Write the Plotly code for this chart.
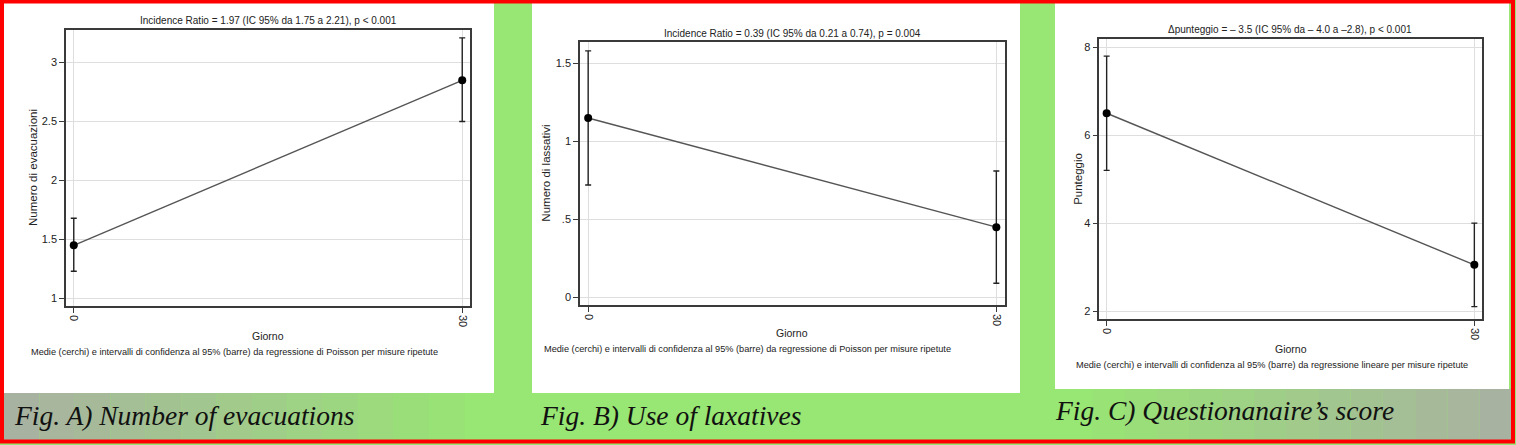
import plotly.graph_objects as go

W, H = 1516, 445

# ---------------- data ----------------
days = [0, 30]
day_labels = ["0", "30"]

evac_mean = [1.45, 2.85]
evac_lo = [1.23, 2.50]
evac_hi = [1.68, 3.21]
evac_ticks = [1, 1.5, 2, 2.5, 3]
evac_ticktext = ["1", "1.5", "2", "2.5", "3"]

lax_mean = [1.15, 0.45]
lax_lo = [0.72, 0.09]
lax_hi = [1.58, 0.81]
lax_ticks = [0, 0.5, 1, 1.5]
lax_ticktext = ["0", ".5", "1", "1.5"]

score_mean = [6.5, 3.05]
score_lo = [5.2, 2.1]
score_hi = [7.8, 4.0]
score_ticks = [2, 4, 6, 8]
score_ticktext = ["2", "4", "6", "8"]

titles = [
    "Incidence Ratio = 1.97 (IC 95% da 1.75 a 2.21), p < 0.001",
    "Incidence Ratio = 0.39 (IC 95% da 0.21 a 0.74), p = 0.004",
    "\u0394punteggio = \u2013 3.5 (IC 95% da \u2013 4.0 a \u20132.8), p < 0.001",
]
ytitles = ["Numero di evacuazioni", "Numero di lassativi", "Punteggio"]
notes = [
    "Medie (cerchi) e intervalli di confidenza al 95% (barre) da regressione di Poisson per misure ripetute",
    "Medie (cerchi) e intervalli di confidenza al 95% (barre) da regressione di Poisson per misure ripetute",
    "Medie (cerchi) e intervalli di confidenza al 95% (barre) da regressione lineare per misure ripetute",
]
captions = ["Fig. A) Number of evacuations", "Fig. B) Use of laxatives", "Fig. C) Questionanaire\u2019s score"]

# ---------------- helpers ----------------
def px(x):
    return x / W

def py(y):
    return 1 - y / H

SANS = "Liberation Sans, Arial, sans-serif"
SERIF = "Liberation Serif, Times New Roman, serif"

fig = go.Figure()
shapes = []
annotations = []

GREEN = "#98e673"
GRAY = "#a8b2a0"

# page background
shapes.append(dict(type="rect", xref="paper", yref="paper", x0=0, x1=1, y0=0, y1=1,
                   fillcolor=GREEN, line=dict(width=0), layer="below"))

def hexmix(c1, c2, t):
    a = [int(c1[i:i + 2], 16) for i in (1, 3, 5)]
    b = [int(c2[i:i + 2], 16) for i in (1, 3, 5)]
    return "#%02x%02x%02x" % tuple(int(round(a[k] + (b[k] - a[k]) * t)) for k in range(3))

# gradient strips under panels A and C
n = 14
for i in range(n):
    x0 = 4 + i * (496 / n)
    x1 = 4 + (i + 1) * (496 / n)
    shapes.append(dict(type="rect", xref="paper", yref="paper", x0=px(x0), x1=px(x1),
                       y0=py(441), y1=py(393), fillcolor=hexmix(GRAY, GREEN, i / (n - 1)),
                       line=dict(width=0), layer="below"))
for i in range(n):
    x0 = 1060 + i * (452 / n)
    x1 = 1060 + (i + 1) * (452 / n)
    shapes.append(dict(type="rect", xref="paper", yref="paper", x0=px(x0), x1=px(x1),
                       y0=py(441), y1=py(389), fillcolor=hexmix(GREEN, GRAY, i / (n - 1)),
                       line=dict(width=0), layer="below"))

# white panels
panels = [(4, 494, 3, 393), (532, 1020, 3, 393), (1055, 1509, 3, 389)]
for (x0, x1, y0, y1) in panels:
    shapes.append(dict(type="rect", xref="paper", yref="paper", x0=px(x0), x1=px(x1),
                       y0=py(y1), y1=py(y0), fillcolor="white", line=dict(width=0), layer="below"))

# red border
shapes.append(dict(type="rect", xref="paper", yref="paper", x0=px(2), x1=px(1513),
                   y0=py(441.5), y1=py(1.5), line=dict(color="#ff0000", width=4)))

# plot areas (px): left, right, top, bottom ; y-ranges
plots = [
    dict(box=(66, 470, 30, 306), yr=(0.935, 3.277), mean=evac_mean, lo=evac_lo, hi=evac_hi,
         tv=evac_ticks, tt=evac_ticktext, title_xy=(268, 21), ytitle_x=33,
         giorno_y=336, note_xy=(29, 352), cap_xy=(12, 415)),
    dict(box=(580, 1004.5, 42.3, 305), yr=(-0.049, 1.635), mean=lax_mean, lo=lax_lo, hi=lax_hi,
         tv=lax_ticks, tt=lax_ticktext, title_xy=(792, 34), ytitle_x=546,
         giorno_y=333, note_xy=(542, 349), cap_xy=(538, 415)),
    dict(box=(1099.3, 1481.7, 38.7, 319), yr=(1.818, 8.196), mean=score_mean, lo=score_lo, hi=score_hi,
         tv=score_ticks, tt=score_ticktext, title_xy=(1290, 30), ytitle_x=1078,
         giorno_y=349, note_xy=(1074, 365), cap_xy=(1053, 410)),
]

layout_axes = {}
for k, p in enumerate(plots):
    i = k + 1
    xa = "x" if i == 1 else f"x{i}"
    ya = "y" if i == 1 else f"y{i}"
    l, r, t, b = p["box"]
    plus = [h - m for h, m in zip(p["hi"], p["mean"])]
    minus = [m - lo for m, lo in zip(p["mean"], p["lo"])]
    fig.add_trace(go.Scatter(
        x=days, y=p["mean"], mode="lines+markers", xaxis=xa, yaxis=ya,
        line=dict(color="#555555", width=1.4),
        marker=dict(color="black", size=8),
        error_y=dict(type="data", array=plus, arrayminus=minus, visible=True,
                     color="#222222", thickness=1.4, width=3),
        showlegend=False, cliponaxis=False, hoverinfo="skip",
    ))
    axcommon = dict(showline=True, mirror=True, linecolor="#3a3a3a", linewidth=1.5,
                    ticks="outside", ticklen=5, tickcolor="#3a3a3a", tickwidth=1,
                    showgrid=True, gridcolor="#dedede", gridwidth=1, zeroline=False,
                    tickfont=dict(family=SANS, size=11, color="#222"))
    layout_axes["xaxis" if i == 1 else f"xaxis{i}"] = dict(
        domain=[px(l), px(r)], anchor=ya, range=[-0.6, 30.6],
        tickvals=days, ticktext=day_labels, tickangle=90, **axcommon)
    layout_axes["yaxis" if i == 1 else f"yaxis{i}"] = dict(
        domain=[py(b), py(t)], anchor=xa, range=list(p["yr"]),
        tickvals=p["tv"], ticktext=p["tt"], tickangle=0, **axcommon)

    tx, ty = p["title_xy"]
    annotations.append(dict(text=titles[k], x=px(tx), y=py(ty), xref="paper", yref="paper",
                            showarrow=False, xanchor="center", yanchor="middle",
                            font=dict(family=SANS, size=10, color="#222")))
    annotations.append(dict(text=ytitles[k], x=px(p["ytitle_x"]), y=py((t + b) / 2),
                            xref="paper", yref="paper", showarrow=False, textangle=-90,
                            xanchor="center", yanchor="middle",
                            font=dict(family=SANS, size=11.5, color="#222")))
    annotations.append(dict(text="Giorno", x=px((l + r) / 2), y=py(p["giorno_y"]),
                            xref="paper", yref="paper", showarrow=False,
                            xanchor="center", yanchor="middle",
                            font=dict(family=SANS, size=10.5, color="#222")))
    nx, ny = p["note_xy"]
    annotations.append(dict(text=notes[k], x=px(nx), y=py(ny), xref="paper", yref="paper",
                            showarrow=False, xanchor="left", yanchor="middle",
                            font=dict(family=SANS, size=9.2, color="#222")))
    cx, cy = p["cap_xy"]
    annotations.append(dict(text="<i>" + captions[k] + "</i>", x=px(cx), y=py(cy),
                            xref="paper", yref="paper", showarrow=False,
                            xanchor="left", yanchor="middle",
                            font=dict(family=SERIF, size=27.5, color="#111")))

fig.update_layout(
    width=W, height=H, margin=dict(l=0, r=0, t=0, b=0),
    paper_bgcolor=GREEN, plot_bgcolor="white",
    shapes=shapes, annotations=annotations, showlegend=False,
    **layout_axes,
)

fig.write_html("out.html", config={"displayModeBar": False},
               post_script="document.body.style.margin='0';document.body.style.padding='0';")
